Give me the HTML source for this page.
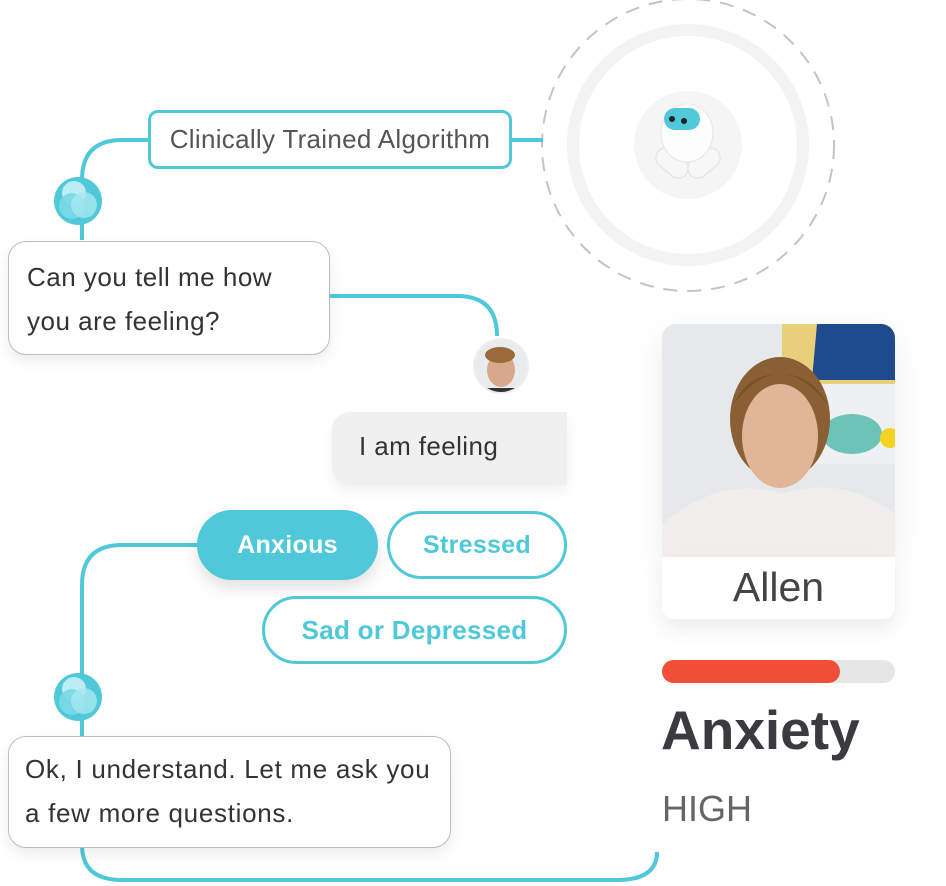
<!DOCTYPE html>
<html><head><meta charset="utf-8"><style>
body{margin:0;width:946px;height:886px;background:#fff;position:relative;overflow:hidden;font-family:"Liberation Sans",sans-serif}
.a{position:absolute;box-sizing:border-box}
.pill{border-radius:36px;font-weight:bold;font-size:25px;display:flex;align-items:center;justify-content:center;color:#4fc8d9;border:3px solid #4fc8d9;background:#fff;letter-spacing:0.3px}
.bub{background:#fff;border:1px solid #bdbdbd;border-radius:18px;box-shadow:0 6px 14px rgba(0,0,0,.08);font-size:26px;color:#333;line-height:44px;letter-spacing:0.5px;white-space:nowrap}
</style></head><body>
<svg class="a" style="left:0;top:0" width="946" height="886">
<circle cx="688" cy="145" r="146" fill="none" stroke="#c4c4c8" stroke-width="2" stroke-dasharray="14 10"/>
<circle cx="688" cy="145" r="115" fill="none" stroke="#f3f3f3" stroke-width="12"/>
<circle cx="688" cy="145" r="54" fill="#f5f5f5"/>
<g fill="none" stroke="#4fc8d9" stroke-width="4">
<path d="M82 240 V180 Q82 140 122 140 H150"/>
<path d="M510 140 H543"/>
<path d="M330 296 H457 Q497 296 497 336"/>
<path d="M200 545 H122 Q82 545 82 585 V740"/>
<path d="M82 845 Q82 880 122 880 H617 Q657 880 657 852"/>
</g>
<g>
<circle cx="78" cy="201" r="24" fill="#4fc8d9"/>
<circle cx="74" cy="193" r="12" fill="#c8f0f6" opacity=".9"/>
<circle cx="72" cy="206" r="13" fill="#7ad9e6" opacity=".9"/>
<circle cx="84" cy="205" r="13" fill="#a8e8f0" opacity=".8"/>
<circle cx="78" cy="697" r="24" fill="#4fc8d9"/>
<circle cx="74" cy="689" r="12" fill="#c8f0f6" opacity=".9"/>
<circle cx="72" cy="702" r="13" fill="#7ad9e6" opacity=".9"/>
<circle cx="84" cy="701" r="13" fill="#a8e8f0" opacity=".8"/>
</g>
<!-- robot -->
<g>
<rect x="654" y="153" width="36" height="20" rx="10" fill="#f7f7f7" stroke="#e0e0e0" transform="rotate(40 672 163)"/>
<rect x="686" y="153" width="36" height="20" rx="10" fill="#f7f7f7" stroke="#e0e0e0" transform="rotate(-40 704 163)"/>
<ellipse cx="687" cy="133" rx="26" ry="29" fill="#fdfdfd" stroke="#e6e6e6"/>
<rect x="664" y="108" width="36" height="22" rx="11" fill="#4fc8d9"/>
<circle cx="672" cy="119" r="3" fill="#222"/><circle cx="684" cy="121" r="3" fill="#222"/>
</g>
<!-- avatar -->
<circle cx="501" cy="366" r="28" fill="#eee"/>
<clipPath id="av"><circle cx="501" cy="366" r="26"/></clipPath>
<g clip-path="url(#av)"><rect x="470" y="335" width="62" height="62" fill="#e9ecee"/>
<ellipse cx="501" cy="370" rx="14" ry="17" fill="#d9a78a"/><ellipse cx="500" cy="355" rx="15" ry="8" fill="#9b6a3a"/>
<rect x="480" y="388" width="42" height="12" fill="#333"/></g>
</svg>
<div class="a" style="left:148px;top:110px;width:364px;height:59px;border:3px solid #4fc8d9;border-radius:10px;font-size:26px;letter-spacing:0.3px;color:#555;display:flex;align-items:center;justify-content:center;white-space:nowrap">Clinically Trained Algorithm</div>
<div class="a bub" style="left:8px;top:241px;width:322px;height:114px;padding:13px 0 0 18px">Can you tell me how<br>you are feeling?</div>
<div class="a" style="left:332px;top:412px;width:235px;height:73px;background:#f0f0f0;border-radius:18px 0 0 18px;font-size:26px;letter-spacing:0.4px;color:#333;padding:19px 0 0 27px;box-shadow:0 6px 12px rgba(0,0,0,.06)">I am feeling</div>
<div class="a pill" style="left:197px;top:510px;width:181px;height:70px;background:#4fc8d9;color:#fff;border-color:#4fc8d9;box-shadow:0 8px 16px rgba(0,0,0,.12)">Anxious</div>
<div class="a pill" style="left:387px;top:511px;width:180px;height:68px">Stressed</div>
<div class="a pill" style="left:262px;top:596px;width:305px;height:68px;font-size:26px">Sad or Depressed</div>
<div class="a bub" style="left:8px;top:736px;width:443px;height:112px;padding:10px 0 0 16px;letter-spacing:0.7px">Ok, I understand. Let me ask you<br>a few more questions.</div>
<div class="a" style="left:662px;top:324px;width:233px;height:233px;border-radius:14px 14px 0 0;overflow:hidden;background:#e4e7ea;box-shadow:0 10px 30px rgba(0,0,0,.08)">
<svg width="233" height="233">
<rect x="0" y="0" width="233" height="233" fill="#e6e9ec"/>
<rect x="120" y="0" width="113" height="60" fill="#e8cf7a"/>
<path d="M155 0 H233 V56 H150 Z" fill="#1e4b8e"/>
<rect x="140" y="60" width="93" height="80" fill="#eef0f2"/>
<ellipse cx="190" cy="110" rx="30" ry="20" fill="#6cc4b8"/>
<circle cx="228" cy="114" r="10" fill="#f2d321"/>
<path d="M0 200 Q60 150 120 170 Q180 150 233 190 V233 H0Z" fill="#f1eeec"/>
<ellipse cx="118" cy="95" rx="50" ry="62" fill="#8a5f33"/>
<ellipse cx="118" cy="112" rx="38" ry="52" fill="#e0b598"/>
<path d="M72 80 Q118 20 165 80 Q150 50 118 50 Q85 50 72 80Z" fill="#7a5128"/>
</svg></div>
<div class="a" style="left:662px;top:557px;width:233px;height:62px;background:#fff;border-radius:0 0 12px 12px;box-shadow:0 10px 20px rgba(0,0,0,.08);font-size:41px;color:#444;text-align:center;line-height:60px">Allen</div>
<div class="a" style="left:662px;top:660px;width:233px;height:23px;background:#e6e6e6;border-radius:12px"><div style="width:178px;height:23px;background:#f04e37;border-radius:12px"></div></div>
<div class="a" style="left:661px;top:698px;font-size:55px;font-weight:bold;color:#3a3a3f">Anxiety</div>
<div class="a" style="left:662px;top:788px;font-size:36px;color:#666">HIGH</div>
</body></html>
